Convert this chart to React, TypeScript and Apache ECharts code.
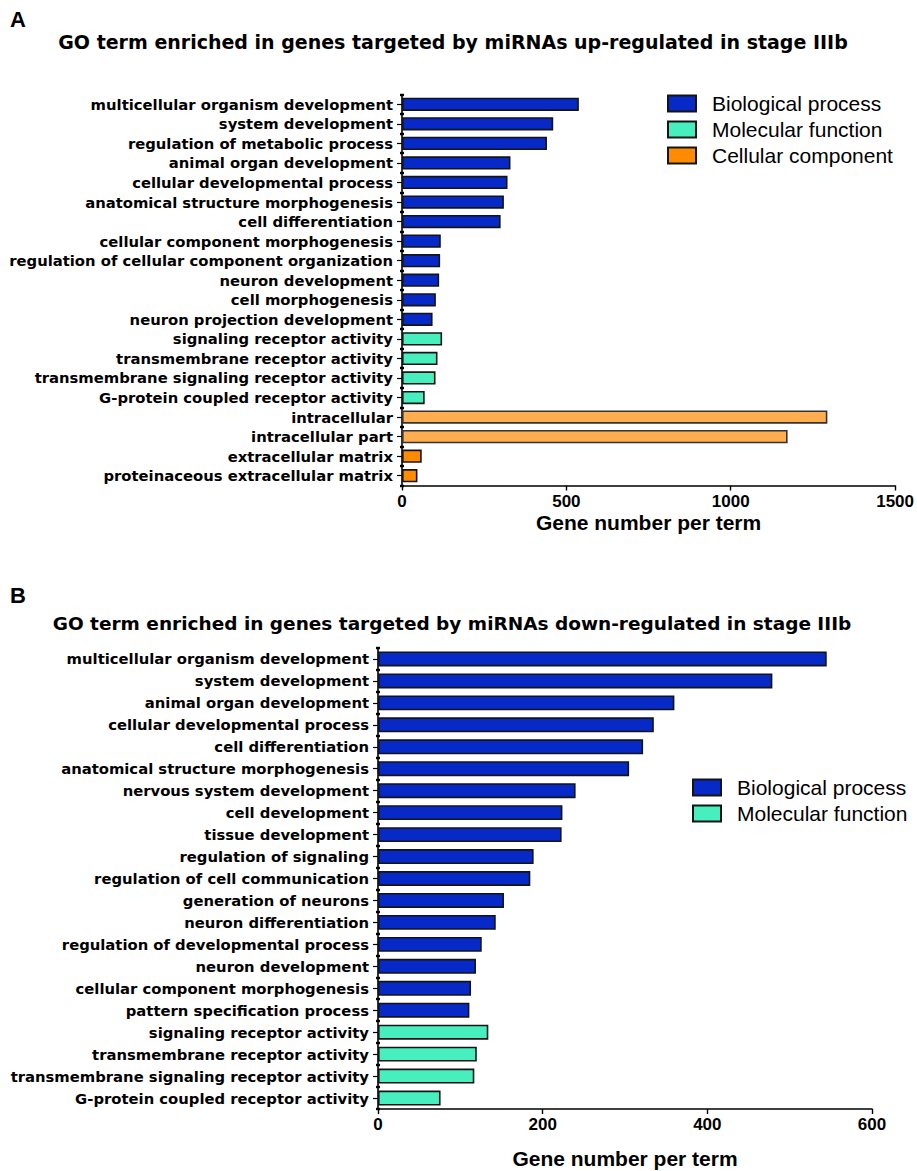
import React, { useEffect, useRef } from "react";
import * as echarts from "echarts";

// ---- Panel A data ----
const upTerms = [
  "multicellular organism development",
  "system development",
  "regulation of metabolic process",
  "animal organ development",
  "cellular developmental process",
  "anatomical structure morphogenesis",
  "cell differentiation",
  "cellular component morphogenesis",
  "regulation of cellular component organization",
  "neuron development",
  "cell morphogenesis",
  "neuron projection development",
  "signaling receptor activity",
  "transmembrane receptor activity",
  "transmembrane signaling receptor activity",
  "G-protein coupled receptor activity",
  "intracellular",
  "intracellular part",
  "extracellular matrix",
  "proteinaceous extracellular matrix",
];
const upCounts = [538, 460, 441, 330, 321, 310, 300, 118, 116, 113, 103, 93, 122, 108, 102, 69, 1294, 1173, 60, 47];
const upTypes = ["BP", "BP", "BP", "BP", "BP", "BP", "BP", "BP", "BP", "BP", "BP", "BP", "MF", "MF", "MF", "MF", "CC", "CC", "CC", "CC"];
const upLightTerms = ["intracellular", "intracellular part"];

// ---- Panel B data ----
const downTerms = [
  "multicellular organism development",
  "system development",
  "animal organ development",
  "cellular developmental process",
  "cell differentiation",
  "anatomical structure morphogenesis",
  "nervous system development",
  "cell development",
  "tissue development",
  "regulation of signaling",
  "regulation of cell communication",
  "generation of neurons",
  "neuron differentiation",
  "regulation of developmental process",
  "neuron development",
  "cellular component morphogenesis",
  "pattern specification process",
  "signaling receptor activity",
  "transmembrane receptor activity",
  "transmembrane signaling receptor activity",
  "G-protein coupled receptor activity",
];
const downCounts = [545, 479, 360, 335, 322, 305, 240, 224, 223, 189, 185, 153, 143, 126, 119, 113, 111, 134, 120, 117, 76];
const downTypes = ["BP", "BP", "BP", "BP", "BP", "BP", "BP", "BP", "BP", "BP", "BP", "BP", "BP", "BP", "BP", "BP", "BP", "MF", "MF", "MF", "MF"];

const typeNames: Record<string, string> = {
  BP: "Biological process",
  MF: "Molecular function",
  CC: "Cellular component",
};
const typeColors: Record<string, string> = {
  BP: "#0629c8",
  MF: "#47efbe",
  CC: "#ff8c00",
};
const lightOrange = "#ffad4f";

const upTicks = { min: 0, max: 1500, interval: 500 };
const downTicks = { min: 0, max: 600, interval: 200 };

const LABEL_FONT = "'DejaVu Sans', sans-serif";
const ARIAL = "'Liberation Sans', Arial, sans-serif";

function buildSeries(
  terms: string[],
  counts: number[],
  types: string[],
  codes: string[],
  idx: number,
  light: string[]
) {
  return codes.map((code) => ({
    type: "bar",
    name: typeNames[code],
    xAxisIndex: idx,
    yAxisIndex: idx * 2,
    stack: "s" + idx,
    barCategoryGap: "32%",
    itemStyle: {
      color: typeColors[code],
      borderColor: "#141414",
      borderWidth: 1.6,
    },
    data: terms.map((t, i) => {
      if (types[i] !== code) return "-";
      if (light.indexOf(t) >= 0) {
        return { value: counts[i], itemStyle: { color: lightOrange, borderColor: "#333" } };
      }
      return counts[i];
    }),
  }));
}

function yAxes(terms: string[], gridIndex: number) {
  return [
    {
      type: "category",
      gridIndex,
      data: terms,
      inverse: true,
      axisLine: { show: true, lineStyle: { color: "#000", width: 1.6 } },
      axisTick: { show: true, alignWithLabel: true, length: 5, lineStyle: { color: "#000", width: 1.2 } },
      axisLabel: {
        color: "#000",
        fontWeight: "bold",
        fontFamily: LABEL_FONT,
        fontSize: 14.8,
        margin: 9,
      },
    },
    {
      type: "category",
      gridIndex,
      data: terms,
      inverse: true,
      position: "left",
      offset: -2,
      axisLine: { show: false },
      axisLabel: { show: false },
      axisTick: { show: true, alignWithLabel: false, length: 4, lineStyle: { color: "#000", width: 2.4 } },
    },
  ];
}

function xAxis(ticks: { min: number; max: number; interval: number }, gridIndex: number, nameGap: number) {
  return {
    type: "value",
    gridIndex,
    min: ticks.min,
    max: ticks.max,
    interval: ticks.interval,
    name: "Gene number per term",
    nameLocation: "middle",
    nameGap,
    nameTextStyle: { color: "#000", fontWeight: "bold", fontFamily: ARIAL, fontSize: 21 },
    splitLine: { show: false },
    axisLine: { show: true, lineStyle: { color: "#000", width: 1.6 } },
    axisTick: { show: true, length: 5, lineStyle: { color: "#000", width: 1.4 } },
    axisLabel: {
      color: "#000",
      fontWeight: "bold",
      fontFamily: ARIAL,
      fontSize: 17,
      margin: 7,
      formatter: (v: number) => String(v),
    },
  };
}

export default function App() {
  const ref = useRef<HTMLDivElement>(null);
  useEffect(() => {
    if (!ref.current) return;
    const chart = echarts.init(ref.current, undefined, { renderer: "svg" });
    const legendText = {
      color: "#000",
      fontFamily: ARIAL,
      fontSize: 21,
      padding: [0, 0, 0, 11],
    };
    const legendBase = {
      orient: "vertical",
      icon: "rect",
      itemWidth: 28,
      itemHeight: 16,
      itemGap: 5,
      padding: 0,
      selectedMode: false,
      textStyle: legendText,
    };
    chart.setOption({
      animation: false,
      backgroundColor: "#fff",
      grid: [
        { left: 402, top: 94.5, width: 494, height: 391 },
        { left: 378, top: 648, width: 494, height: 461 },
      ],
      xAxis: [xAxis(upTicks, 0, 26), xAxis(downTicks, 1, 39)],
      yAxis: [...yAxes(upTerms, 0), ...yAxes(downTerms, 1)],
      legend: [
        {
          ...legendBase,
          left: 667,
          top: 93,
          data: ["Biological process", "Molecular function", "Cellular component"],
        },
        {
          ...legendBase,
          left: 692,
          top: 777,
          data: ["Biological process", "Molecular function"],
        },
      ],
      series: [
        ...buildSeries(upTerms, upCounts, upTypes, ["BP", "MF", "CC"], 0, upLightTerms),
        ...buildSeries(downTerms, downCounts, downTypes, ["BP", "MF"], 1, []),
      ],
      graphic: [
        {
          type: "text",
          left: 10,
          top: 8,
          style: { text: "A", fill: "#000", font: "bold 22px " + ARIAL },
        },
        {
          type: "text",
          x: 453,
          y: 42,
          style: {
            text: "GO term enriched in genes targeted by miRNAs up-regulated in stage IIIb",
            fill: "#000",
            font: "bold 19px " + LABEL_FONT,
            textAlign: "center",
            textVerticalAlign: "middle",
          },
        },
        {
          type: "text",
          left: 10,
          top: 584,
          style: { text: "B", fill: "#000", font: "bold 22px " + ARIAL },
        },
        {
          type: "text",
          x: 452,
          y: 623,
          style: {
            text: "GO term enriched in genes targeted by miRNAs down-regulated in stage IIIb",
            fill: "#000",
            font: "bold 18.5px " + LABEL_FONT,
            textAlign: "center",
            textVerticalAlign: "middle",
          },
        },
      ],
    });
    return () => chart.dispose();
  }, []);
  return (
    <div
      ref={ref}
      style={{ position: "absolute", left: 0, top: 0, width: 917, height: 1171 }}
    />
  );
}
